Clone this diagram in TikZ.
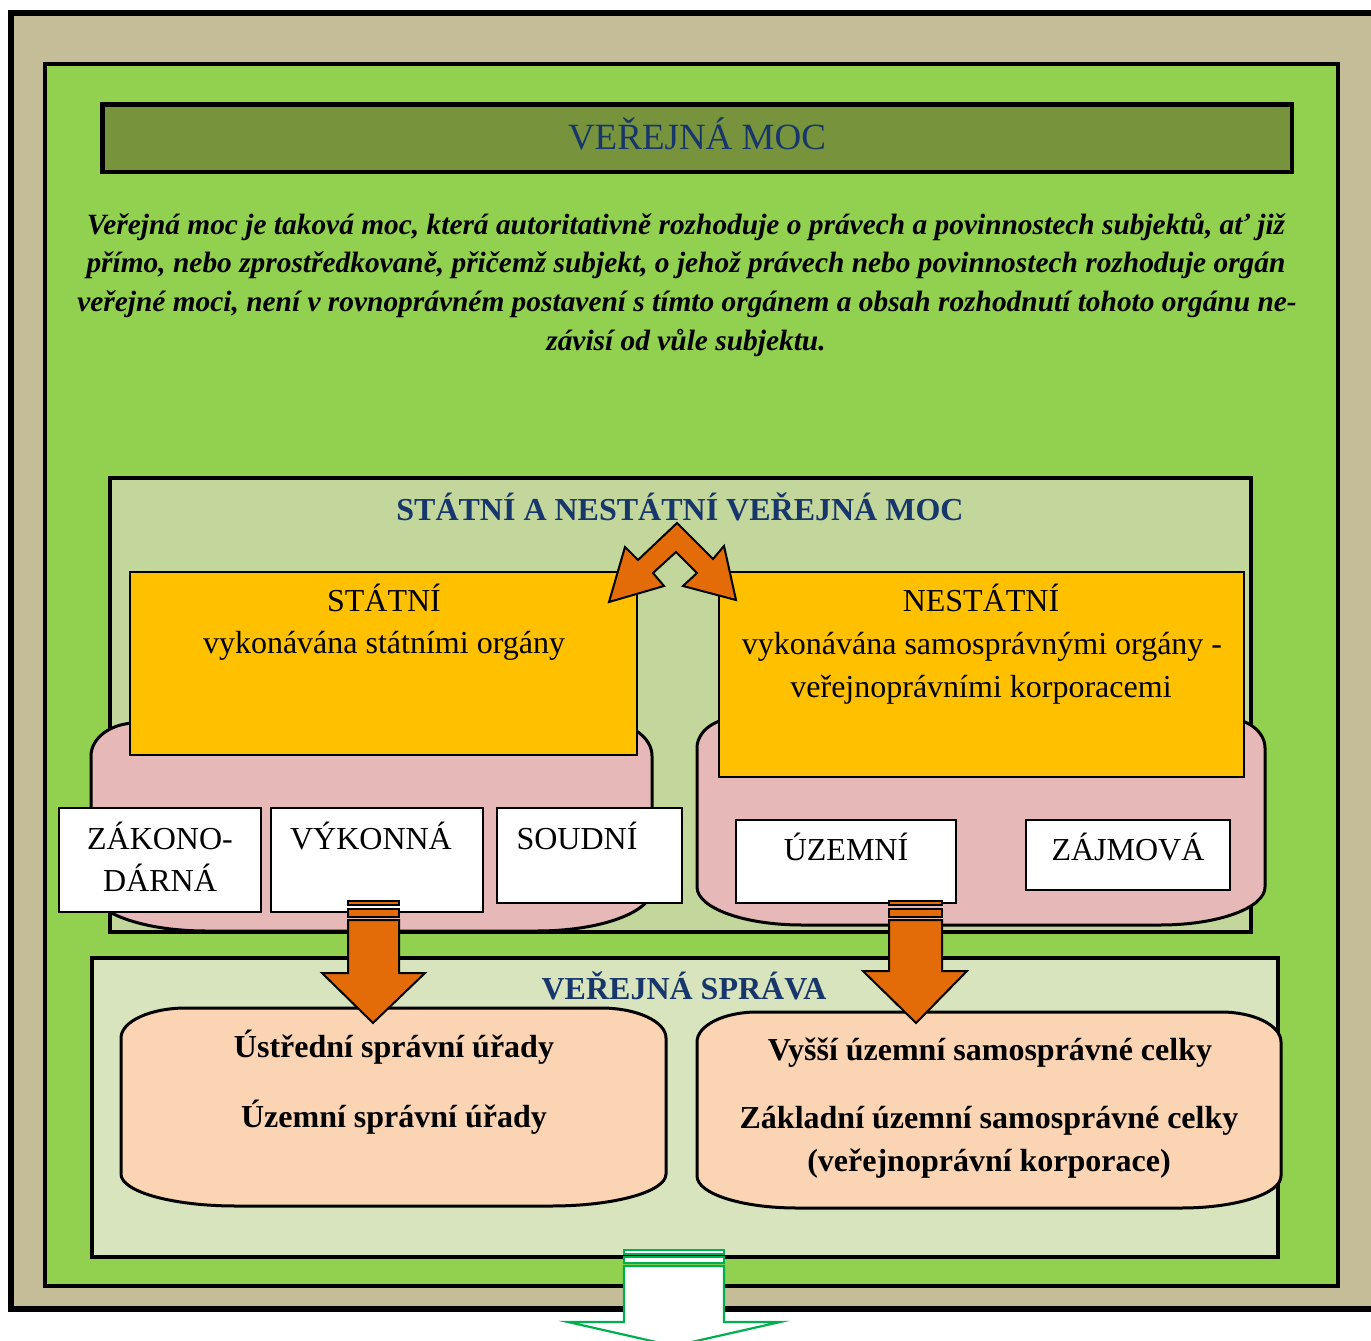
\documentclass[tikz,border=0pt]{standalone}
\usepackage{fontspec}
\setmainfont{Liberation Serif}
\definecolor{cTan}{HTML}{C4BD97}
\definecolor{cGreen}{HTML}{92D050}
\definecolor{cOlive}{HTML}{77933C}
\definecolor{cNavy}{HTML}{17366B}
\definecolor{cState}{HTML}{C3D69B}
\definecolor{cYellow}{HTML}{FFC000}
\definecolor{cPink}{HTML}{E6B9B8}
\definecolor{cOrange}{HTML}{E36C09}
\definecolor{cVS}{HTML}{D7E4BD}
\definecolor{cPeach}{HTML}{FBD4B4}
\definecolor{cArrGreen}{HTML}{00B050}
\newcommand{\softbox}[9]{% x1 y1 x2 y2 rxt ryt rxb ryb style
  \draw[#9] (#1+#5,#2) -- (#3-#5,#2)
    arc[start angle=-90,end angle=0,x radius=#5,y radius=#6]
    -- (#3,#4-#8)
    arc[start angle=0,end angle=90,x radius=#7,y radius=#8]
    -- (#1+#7,#4)
    arc[start angle=90,end angle=180,x radius=#7,y radius=#8]
    -- (#1,#2+#6)
    arc[start angle=180,end angle=270,x radius=#5,y radius=#6] -- cycle;}
\begin{document}
\begin{tikzpicture}[x=1pt,y=-1pt,
  txt/.style={anchor=base,inner sep=0pt,font=\fontsize{32}{40}\selectfont},
  btxt/.style={txt,font=\bfseries\fontsize{32}{40}\selectfont},
  deftxt/.style={anchor=base,inner sep=0pt,font=\bfseries\itshape\fontsize{29.4}{36}\selectfont},
  head/.style={btxt,text=cNavy},
  wbox/.style={draw=black,line width=2.5,fill=white},
  ybox/.style={draw=black,line width=2,fill=cYellow},
  pinkshape/.style={draw=black,line width=3,fill=cPink},
  peachshape/.style={draw=black,line width=3,fill=cPeach},
  orarrow/.style={draw=black,line width=2,fill=cOrange,line join=miter},
  grarrow/.style={draw=cArrGreen,line width=2.2,fill=white,line join=miter}]
\useasboundingbox (0,0) rectangle (1371,1341);
\fill[white] (0,0) rectangle (1371,1341);
% frames
\draw[line width=5.5,fill=cTan] (11,13) rectangle (1390,1309);
\draw[line width=4,fill=cGreen] (44.5,63.5) rectangle (1338,1286);
\draw[line width=4.5,fill=cOlive] (102.5,104.5) rectangle (1292,172);
\node[anchor=base,inner sep=0pt,font=\fontsize{37}{44}\selectfont,text=cNavy] (title) at (697,149) {VEŘEJNÁ MOC};
\node[deftxt] (def1) at (686,234) {Veřejná moc je taková moc, která autoritativně rozhoduje o právech a povinnostech subjektů, ať již};
\node[deftxt] (def2) at (686,272) {přímo, nebo zprostředkovaně, přičemž subjekt, o jehož právech nebo povinnostech rozhoduje orgán};
\node[deftxt] (def3) at (687,311) {veřejné moci, není v rovnoprávném postavení s tímto orgánem a obsah rozhodnutí tohoto orgánu ne-};
\node[deftxt] (def4) at (686,350) {závisí od vůle subjektu.};
% state box
\draw[line width=4,fill=cState] (109.5,477.5) rectangle (1251,932);
\node[head] (sn) at (680,520) {STÁTNÍ A NESTÁTNÍ VEŘEJNÁ MOC};
% pink shapes
\softbox{91}{723}{652}{931}{45}{33}{115}{42}{pinkshape}
\softbox{697}{718}{1265}{925}{40}{30}{105}{38}{pinkshape}
% yellow boxes
\draw[ybox] (130,572) rectangle (637,755);
\draw[ybox] (719,572) rectangle (1244,777);
\node[txt] (st1) at (384,611) {STÁTNÍ};
\node[txt] (st2) at (384,653) {vykonávána státními orgány};
\node[txt] (ns1) at (981,611) {NESTÁTNÍ};
\node[txt] (ns2) at (982,654) {vykonávána samosprávnými orgány -};
\node[txt] (ns3) at (981,697) {veřejnoprávními korporacemi};
% white boxes
\draw[wbox] (59,808) rectangle (261,912);
\draw[wbox] (271,808) rectangle (483,912);
\draw[wbox] (497,808) rectangle (682,903);
\draw[wbox] (736,820) rectangle (956,903);
\draw[wbox] (1026,820) rectangle (1230,890);
\node[txt] (zak1) at (160,849) {ZÁKONO-};
\node[txt] (zak2) at (160,891) {DÁRNÁ};
\node[txt] (vyk) at (371,849) {VÝKONNÁ};
\node[txt] (sou) at (577,849) {SOUDNÍ};
\node[txt] (uze) at (846,860) {ÚZEMNÍ};
\node[txt] (zaj) at (1128,860) {ZÁJMOVÁ};
% double arrow
\draw[orarrow] (677,523) -- (713,559) -- (724,546) -- (736,600) -- (683,586) -- (697,573) -- (676,552) -- (653,573) -- (664,586) -- (609,602) -- (625,547) -- (638,560) -- cycle;
% public administration box
\draw[line width=4,fill=cVS] (91.5,957.5) rectangle (1278,1257);
\node[head] (vs) at (684,999) {VEŘEJNÁ SPRÁVA};
\softbox{121}{1008}{666}{1206}{65}{30}{115}{32}{peachshape}
\softbox{697}{1012}{1281}{1208}{60}{30}{100}{32}{peachshape}
\node[btxt] (p1) at (394,1057) {Ústřední správní úřady};
\node[btxt] (p2) at (394,1127) {Územní správní úřady};
\node[btxt] (q1) at (990,1060) {Vyšší územní samosprávné celky};
\node[btxt] (q2) at (989,1128) {Základní územní samosprávné celky};
\node[btxt] (q3) at (989,1171) {(veřejnoprávní korporace)};
% down arrows
\draw[orarrow,line width=1.5] (348,901) rectangle (399,905);
\draw[orarrow,line width=1.5] (348,909) rectangle (399,917);
\draw[orarrow] (348,920) -- (399,920) -- (399,973) -- (425,973) -- (373,1023) -- (322,973) -- (348,973) -- cycle;
\draw[orarrow,line width=1.5] (889,901) rectangle (942,905);
\draw[orarrow,line width=1.5] (889,909) rectangle (942,917);
\draw[orarrow] (889,920) -- (942,920) -- (942,971) -- (967,971) -- (916,1023) -- (863,971) -- (889,971) -- cycle;
% bottom arrow
\draw[grarrow] (624,1250) rectangle (724,1254);
\draw[grarrow] (624,1257) rectangle (724,1263);
\draw[grarrow] (624,1266) -- (724,1266) -- (724,1322) -- (780,1322) -- (674,1346) -- (568,1322) -- (624,1322) -- cycle;
\end{tikzpicture}
\end{document}
